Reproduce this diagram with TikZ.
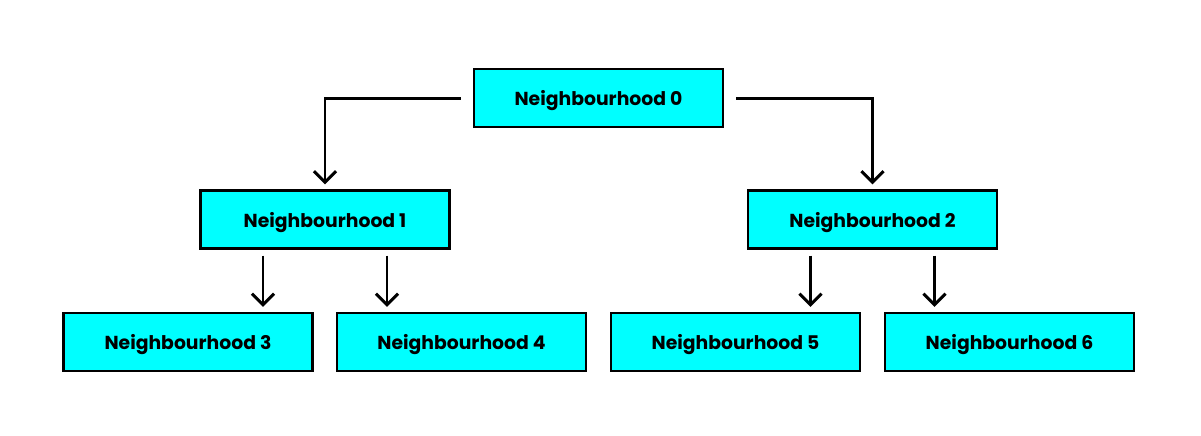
\documentclass[tikz,border=0pt]{standalone}
\usepackage{fontspec}
\newfontfamily\hoodfont{Poppins}
\usetikzlibrary{arrows.meta}
\definecolor{hoodcyan}{RGB}{0,255,255}
\tikzset{
  hood/.style={draw=black, line width=0.7pt, fill=hoodcyan, minimum width=2.49cm, minimum height=0.58cm,
    inner sep=0pt, text depth=0pt, font=\hoodfont\bfseries\fontsize{5.35}{6}\selectfont},
  link/.style={line width=0.85pt, -{Straight Barb[length=1.1mm,width=2.2mm,line width=0.85pt]}},
}
\begin{document}
\begin{tikzpicture}
  \useasboundingbox (0,0) rectangle (12.01,-4.35);
  \node[hood] (n0) at (5.985,-0.98) {Neighbourhood 0};
  \node[hood] (n1) at (3.25,-2.195) {Neighbourhood 1};
  \node[hood] (n2) at (8.725,-2.195) {Neighbourhood 2};
  \node[hood] (n3) at (1.88,-3.42) {Neighbourhood 3};
  \node[hood] (n4) at (4.615,-3.42) {Neighbourhood 4};
  \node[hood] (n5) at (7.355,-3.42) {Neighbourhood 5};
  \node[hood] (n6) at (10.095,-3.42) {Neighbourhood 6};
  % top level
  \draw[link, shorten <=0.12cm, shorten >=0.05cm] (n0.west) -| (n1.north);
  \draw[link, shorten <=0.12cm, shorten >=0.05cm] (n0.east) -| (n2.north);
  % second level
  \draw[link, shorten <=0.06cm, shorten >=0.05cm] ([xshift=-0.62cm]n1.south) -- ([xshift=-0.62cm]n1.south |- n3.north);
  \draw[link, shorten <=0.06cm, shorten >=0.05cm] ([xshift=0.62cm]n1.south) -- ([xshift=0.62cm]n1.south |- n4.north);
  \draw[link, shorten <=0.06cm, shorten >=0.05cm] ([xshift=-0.62cm]n2.south) -- ([xshift=-0.62cm]n2.south |- n5.north);
  \draw[link, shorten <=0.06cm, shorten >=0.05cm] ([xshift=0.62cm]n2.south) -- ([xshift=0.62cm]n2.south |- n6.north);
\end{tikzpicture}
\end{document}
